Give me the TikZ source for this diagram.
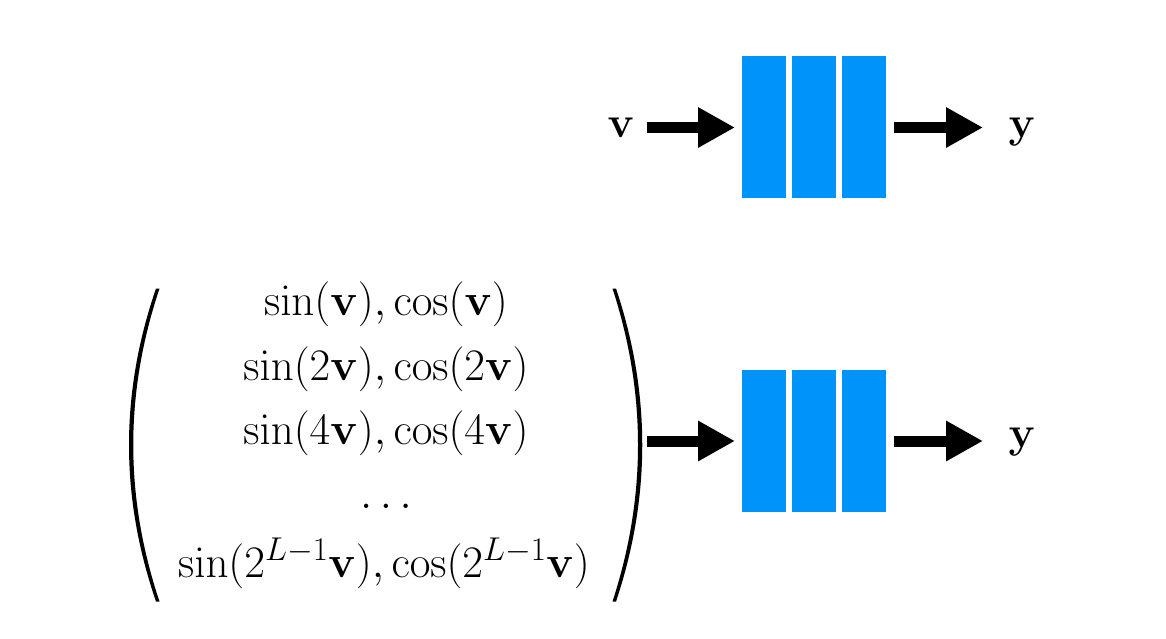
\RequirePackage{fix-cm}
\documentclass[tikz,border=0pt]{standalone}
\usetikzlibrary{arrows.meta}
\DeclareMathSizes{45}{45}{33}{24}
\definecolor{blk}{RGB}{0,147,250}
\begin{document}
\begin{tikzpicture}[x=1pt,y=-1pt,
  blkbox/.style={fill=blk,draw=none,minimum width=44pt,minimum height=142pt,inner sep=0pt},
  fatarrow/.style={line width=11pt,-{Triangle[length=37pt,width=38pt]}},
  lbl/.style={font=\fontsize{44}{52}\selectfont,inner sep=0pt,anchor=base},
  eqline/.style={font=\fontsize{45}{54}\selectfont,inner sep=0pt,anchor=base},
  parenshape/.style={fill=black,draw=none}]
\useasboundingbox (0,0) rectangle (1166,638);
% top row
\node[lbl] (v) at (621,137) {$\mathbf{v}$};
\node[blkbox] (t1) at (764,127) {};
\node[blkbox] (t2) at (814,127) {};
\node[blkbox] (t3) at (864,127) {};
\node[lbl] (ytop) at (1022,137) {$\mathbf{y}$};
\coordinate (vs) at (647,127.5);
\coordinate (ts) at (894,127.5);
\coordinate (vt) at (735,127.5);
\coordinate (yt) at (983,127.5);
\draw[fatarrow] (vs) -- (vt);
\draw[fatarrow] (ts) -- (yt);
% bottom row
\node[eqline] (l1) at (386,315) {$\sin(\mathbf{v}),\cos(\mathbf{v})$};
\node[eqline] (l2) at (386,380) {$\sin(2\mathbf{v}),\cos(2\mathbf{v})$};
\node[eqline] (l3) at (386,444) {$\sin(4\mathbf{v}),\cos(4\mathbf{v})$};
\node[eqline] (l4) at (386,508) {$\ldots$};
\node[eqline] (l5) at (384,577) {$\sin(2^{L-1}\mathbf{v}),\cos(2^{L-1}\mathbf{v})$};
% parentheses
\fill[parenshape] (159.5,288.5) .. controls (124.5,393) and (124.5,497) .. (159.5,601.5)
   -- (156,601.5) .. controls (120,497) and (120,393) .. (156,288.5) -- cycle;
\fill[parenshape] (612.5,288.5) .. controls (646.5,393) and (646.5,497) .. (612.5,601.5)
   -- (616,601.5) .. controls (651,497) and (651,393) .. (616,288.5) -- cycle;
\node[blkbox] (b1) at (764,441) {};
\node[blkbox] (b2) at (814,441) {};
\node[blkbox] (b3) at (864,441) {};
\node[lbl] (ybot) at (1022,447) {$\mathbf{y}$};
\coordinate (ps) at (647,441);
\coordinate (pt) at (735,441);
\coordinate (bs) at (894,441);
\coordinate (bt) at (983,441);
\draw[fatarrow] (ps) -- (pt);
\draw[fatarrow] (bs) -- (bt);
\end{tikzpicture}
\end{document}
